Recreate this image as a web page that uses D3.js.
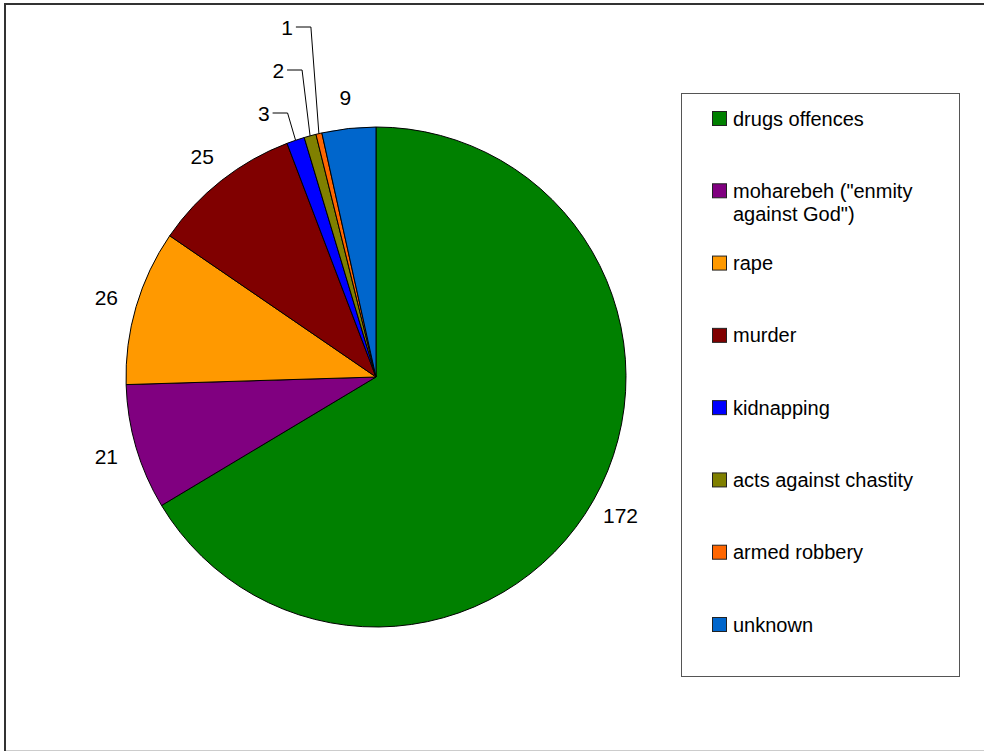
<!DOCTYPE html>
<head>
  <meta charset="utf-8">
  <script src="https://d3js.org/d3.v7.min.js"></script>
  <style>
    body { margin: 0; background: #fff; }
    text { font-family: "Liberation Sans", Arial, sans-serif; fill: #000; }
    path.slice { stroke: #000; stroke-width: 1px; }
  </style>
</head>

<body>
  <script>
    var width = 984;
    var height = 751;

    // data
    var categories = ["drugs offences", "moharebeh (\"enmity against God\")", "rape", "murder",
                      "kidnapping", "acts against chastity", "armed robbery", "unknown"];
    var legendLines = [["drugs offences"], ["moharebeh (\"enmity", "against God\")"], ["rape"], ["murder"],
                       ["kidnapping"], ["acts against chastity"], ["armed robbery"], ["unknown"]];
    var counts = [172, 21, 26, 25, 3, 2, 1, 9];
    var colors = ["#008000", "#800080", "#ff9900", "#800000", "#0000ff", "#808000", "#ff6600", "#0066cc"];

    var cx = 376, cy = 377, r = 250;

    var svg = d3.select("body").append("svg")
        .attr("width", width)
        .attr("height", height);

    // page frame
    svg.append("line").attr("x1", 5).attr("y1", 4).attr("x2", 5).attr("y2", 751)
      .attr("stroke", "#333").attr("stroke-width", 2);
    svg.append("line").attr("x1", 4).attr("y1", 4).attr("x2", 984).attr("y2", 4)
      .attr("stroke", "#333").attr("stroke-width", 2);
    svg.append("line").attr("x1", 6).attr("y1", 750.5).attr("x2", 984).attr("y2", 750.5)
      .attr("stroke", "#ccc").attr("stroke-width", 1);

    var data = categories.map(function (c, i) {
      return { name: c, value: counts[i], color: colors[i], idx: i };
    });

    var pie = d3.pie().sort(null).value(function (d) { return d.value; });
    var arcs = pie(data);
    var arc = d3.arc().innerRadius(0).outerRadius(r);

    var g = svg.append("g").attr("transform", "translate(" + cx + "," + cy + ")");

    g.selectAll("path.slice")
      .data(arcs)
      .enter().append("path")
      .attr("class", "slice")
      .attr("d", arc)
      .attr("fill", function (d) { return d.data.color; });

    function pt(a, rad) {
      return [Math.sin(a) * rad, -Math.cos(a) * rad];
    }

    // big slices get a plain label, the thin ones a leader line
    var small = arcs.filter(function (d) { return d.data.value <= 3; });
    var big = arcs.filter(function (d) { return d.data.value > 3; });

    g.selectAll("text.big")
      .data(big)
      .enter().append("text")
      .attr("class", "big")
      .attr("x", function (d) { return pt((d.startAngle + d.endAngle) / 2, 281)[0]; })
      .attr("y", function (d) { return pt((d.startAngle + d.endAngle) / 2, 281)[1]; })
      .attr("text-anchor", "middle")
      .attr("dominant-baseline", "central")
      .style("font-size", "21px")
      .text(function (d) { return d.data.value; });

    small.forEach(function (d, i) {
      var mid = (d.startAngle + d.endAngle) / 2;
      var p0 = pt(mid, r);
      var ey = -r - 14 - i * 43;
      var ex = p0[0] - 8;
      g.append("polyline")
        .attr("points", [p0, [ex, ey], [ex - 15, ey]].map(function (p) { return p.join(","); }).join(" "))
        .attr("fill", "none")
        .attr("stroke", "#000")
        .attr("stroke-width", 1);
      g.append("text")
        .attr("x", ex - 18)
        .attr("y", ey)
        .attr("text-anchor", "end")
        .attr("dominant-baseline", "central")
        .style("font-size", "21px")
        .text(d.data.value);
    });

    // legend
    var legend = svg.append("g");
    legend.append("rect")
      .attr("x", 681.5).attr("y", 93.5)
      .attr("width", 278).attr("height", 583)
      .attr("fill", "#fff").attr("stroke", "#555").attr("stroke-width", 1);

    var ly = d3.scaleLinear().domain([0, categories.length - 1]).range([118.5, 624.5]);

    var items = legend.selectAll("g.item")
      .data(data)
      .enter().append("g")
      .attr("class", "item")
      .attr("transform", function (d) { return "translate(712," + ly(d.idx) + ")"; });

    items.append("rect")
      .attr("x", 0.5).attr("y", -7)
      .attr("width", 14).attr("height", 14)
      .attr("fill", function (d) { return d.color; })
      .attr("stroke", "#222").attr("stroke-width", 1);

    items.each(function (d) {
      var t = d3.select(this).append("text")
        .attr("x", 21)
        .attr("y", 0)
        .attr("dominant-baseline", "central")
        .style("font-size", "20px");
      legendLines[d.idx].forEach(function (line, k) {
        t.append("tspan").attr("x", 21).attr("dy", k === 0 ? 0 : 23).text(line);
      });
    });
  </script>
</body>
